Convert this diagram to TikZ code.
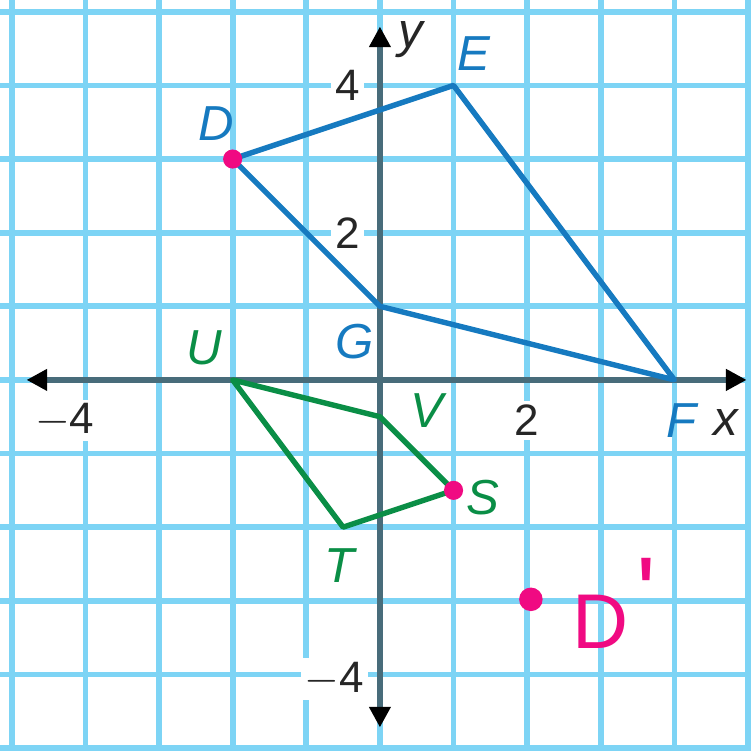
\documentclass[tikz,border=0pt]{standalone}
\usepackage{fontspec}
\setmainfont{Liberation Sans}
\usetikzlibrary{arrows.meta, positioning}

\definecolor{gridblue}{RGB}{125,212,245}
\definecolor{axisgray}{RGB}{72,108,122}
\definecolor{shapeblue}{RGB}{22,122,192}
\definecolor{shapegreen}{RGB}{10,142,70}
\definecolor{markpink}{RGB}{240,10,130}

\begin{document}
\begin{tikzpicture}[
  gridline/.style={draw=gridblue, line width=2.2pt},
  axis/.style={draw=axisgray, line width=2.2pt, {Triangle[length=2.8mm, width=2.8mm, color=black]}-{Triangle[length=2.8mm, width=2.8mm, color=black]}},
  quadb/.style={draw=shapeblue, line width=2.1pt, line join=round},
  quadg/.style={draw=shapegreen, line width=2.1pt, line join=round},
  num/.style={font=\fontsize{17}{17}\selectfont, fill=white, inner sep=1.5pt, text=black!85},
  vlab/.style={font=\fontsize{19}{19}\selectfont\itshape, inner sep=1pt},
  pinkdot/.style={circle, fill=markpink, inner sep=0pt, minimum size=2.6mm}
]
  \useasboundingbox (-5.16,-5.03) rectangle (5.04,5.16);
  \fill[white] (-5.16,-5.03) rectangle (5.04,5.16);

  % Grid
  \foreach \k in {-5,...,5} {
    \draw[gridline] (\k,-5.03) -- (\k,5.16);
    \draw[gridline] (-5.16,\k) -- (5.04,\k);
  }

  % Axes
  \coordinate (xl) at (-4.8,0);
  \coordinate (xr) at (4.98,0);
  \coordinate (yb) at (0,-4.72);
  \coordinate (yt) at (0,4.8);
  \draw[axis] (xl) -- (xr);
  \draw[axis] (yb) -- (yt);

  % Tick numbers
  \node[num] (n4) at (-0.44,4.0) {4};
  \node[num] (n2) at (-0.44,2.0) {2};
  \node[num] (nm4y) at (-0.62,-4.06) {$-$4};
  \node[num] (nm4x) at (-4.28,-0.55) {$-$4};
  \node[num] (n2x) at (2.0,-0.55) {2};
  \node[vlab, text=black!85] (ylab) at (0.42,4.62) {y};
  \node[vlab, text=black!85] (xlab) at (4.7,-0.58) {x};

  % Quadrilateral DEFG
  \coordinate (D) at (-2,3);
  \coordinate (E) at (1,4);
  \coordinate (F) at (4,0);
  \coordinate (G) at (0,1);
  \draw[quadb] (D) -- (E) -- (F) -- (G) -- cycle;

  % Quadrilateral UVST
  \coordinate (U) at (-2,0);
  \coordinate (V) at (0,-0.5);
  \coordinate (S) at (1,-1.5);
  \coordinate (T) at (-0.5,-2);
  \draw[quadg] (U) -- (V) -- (S) -- (T) -- cycle;

  % Vertex labels
  \node[vlab, text=shapeblue] (Dl) at (-2.22,3.48) {D};
  \node[vlab, text=shapeblue] (El) at (1.28,4.43) {E};
  \node[vlab, text=shapeblue] (Fl) at (4.1,-0.55) {F};
  \node[vlab, text=shapeblue] (Gl) at (-0.34,0.52) {G};
  \node[vlab, text=shapegreen] (Ul) at (-2.38,0.44) {U};
  \node[vlab, text=shapegreen] (Vl) at (0.64,-0.42) {V};
  \node[vlab, text=shapegreen] (Sl) at (1.4,-1.6) {S};
  \node[vlab, text=shapegreen] (Tl) at (-0.55,-2.52) {T};

  % Pink marks
  \node[pinkdot] (Dm) at (D) {};
  \node[pinkdot] (Sm) at (S) {};
  \node[pinkdot, minimum size=3.2mm] (Dp) at (2.05,-2.98) {};
  \node[font=\fontsize{30}{30}\selectfont, text=markpink] (Dpl) at (3.0,-3.28) {D};
  \node[font=\fontsize{40}{40}\selectfont, text=markpink] (Dpr) at (3.62,-2.9) {\textquotesingle};
\end{tikzpicture}
\end{document}
